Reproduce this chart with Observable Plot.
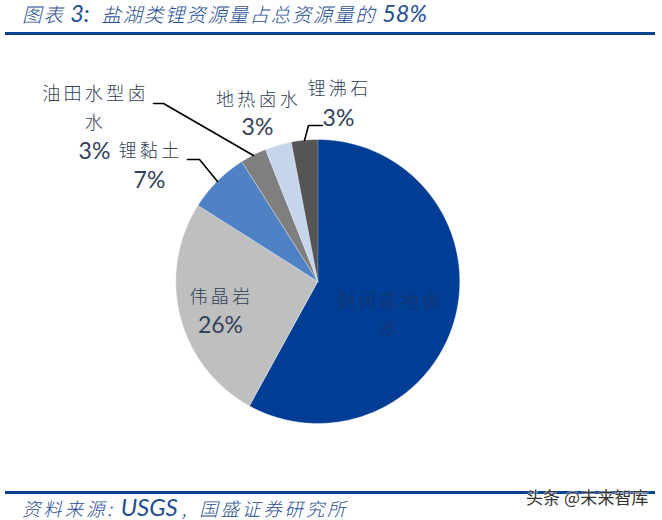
<!DOCTYPE html>
<html><head><meta charset="utf-8">
<script src="https://cdn.jsdelivr.net/npm/d3@7"></script>
<script src="https://cdn.jsdelivr.net/npm/@observablehq/plot@0.6"></script>
<style>
html,body{margin:0;padding:0;background:#fff;width:662px;height:520px;overflow:hidden;position:relative}
#title{position:absolute;left:22px;top:1px;font:italic 300 19.6px/24px "Noto Sans CJK SC";letter-spacing:1.55px;color:#1f4e96;white-space:pre}
#title .n{font:italic 23.5px/24px Lato;letter-spacing:0}
.rule{position:absolute;left:5px;width:650px;height:3px;background:#0b4390}
#chart{position:absolute;left:0;top:37px}
#source{position:absolute;left:22px;top:495px;font:italic 300 18.5px/24px "Noto Sans CJK SC";letter-spacing:2.8px;color:#1f4e96;white-space:pre}
#source .n{font:italic 24px/24px Lato;letter-spacing:0;margin-left:6px;margin-right:4px}
#source .r{margin-left:10px}
#mark{position:absolute;left:526px;top:487px;font:17px/20px "Noto Sans CJK SC";letter-spacing:.1px;color:#333;white-space:pre;text-shadow:0 0 2px #fff,0 0 2px #fff}
.lab text{letter-spacing:3.3px}
</style></head><body>
<div id="title">图表 <span class="n">3:</span>  盐湖类锂资源量占总资源量的 <span class="n">58%</span></div>
<div class="rule" style="top:32px"></div>
<div id="chart"></div>
<div class="rule" style="top:491px"></div>
<div id="source">资料来源:<span class="n">USGS</span>,<span class="r">国盛证券研究所</span></div>
<div id="mark">头条 @未来智库</div>
<script>
const categories = ["封闭盆地卤水","伟晶岩","锂黏土","油田水型卤水","地热卤水","锂沸石"];
const shares = [58,26,7,3,3,3];
const sliceColors = ["#003e96","#bfbfbf","#4f81c5","#7f7f7f","#c5d5ec","#555555"];

const center = [317.3,281], radius = 142;
const arcs = d3.pie().sort(null)(shares);
const wedges = arcs.flatMap((a,i) => {
  const pts = [{name:categories[i],x:center[0],y:center[1]}];
  const n = Math.max(2, Math.ceil((a.endAngle-a.startAngle)/0.01));
  for (let k=0;k<=n;k++){
    const t = a.startAngle+(a.endAngle-a.startAngle)*k/n;
    pts.push({name:categories[i],x:center[0]+radius*Math.sin(t),y:center[1]-radius*Math.cos(t)});
  }
  return pts;
});

const nameLines = [
  {t:"油田水型卤",x:95,y:94},{t:"水",x:95,y:123},{t:"锂黏土",x:150,y:151},
  {t:"地热卤水",x:258,y:100},{t:"锂沸石",x:339,y:89},{t:"伟晶岩",x:221,y:297}
];
const hiddenLines = [{t:"封闭盆地卤",x:390,y:301},{t:"水",x:390,y:328}];
const percents = [
  {t:"3%",x:94,y:151},{t:"7%",x:149,y:180},{t:"3%",x:257,y:127},
  {t:"3%",x:338,y:118},{t:"26%",x:220,y:325}
];
const leaders = [
  {k:"a",x:153,y:103},{k:"a",x:163,y:103},{k:"a",x:253,y:155},
  {k:"b",x:187,y:159},{k:"b",x:199,y:159},{k:"b",x:217,y:181},
  {k:"c",x:322,y:125},{k:"c",x:308,y:125},{k:"c",x:304,y:140}
];
const cjk = "Noto Sans CJK SC";
const plot = Plot.plot({
  width:662,height:453,margin:0,
  x:{domain:[0,662],range:[0,662],axis:null},
  y:{domain:[37,490],range:[0,453],axis:null},
  color:{domain:categories,range:sliceColors},
  style:{background:"transparent"},
  marks:[
    Plot.line(wedges,{x:"x",y:"y",z:"name",fill:"name",stroke:"#ffffff",strokeWidth:0.4,curve:"linear"}),
    Plot.line(leaders,{x:"x",y:"y",z:"k",stroke:"#000",strokeWidth:1.6,curve:"linear"}),
    Plot.text(nameLines,{x:"x",y:"y",text:"t",fontSize:18,fontFamily:cjk,fontWeight:300,fill:"#2f4058",className:"lab"}),
    Plot.text(hiddenLines,{x:"x",y:"y",text:"t",fontSize:18,fontFamily:cjk,fontWeight:300,fill:"#1d3566",className:"lab"}),
    Plot.text(percents,{x:"x",y:"y",text:"t",fontSize:23,fontFamily:"Lato",fill:"#33435c"})
  ]
});
document.getElementById("chart").append(plot);
</script></body></html>
